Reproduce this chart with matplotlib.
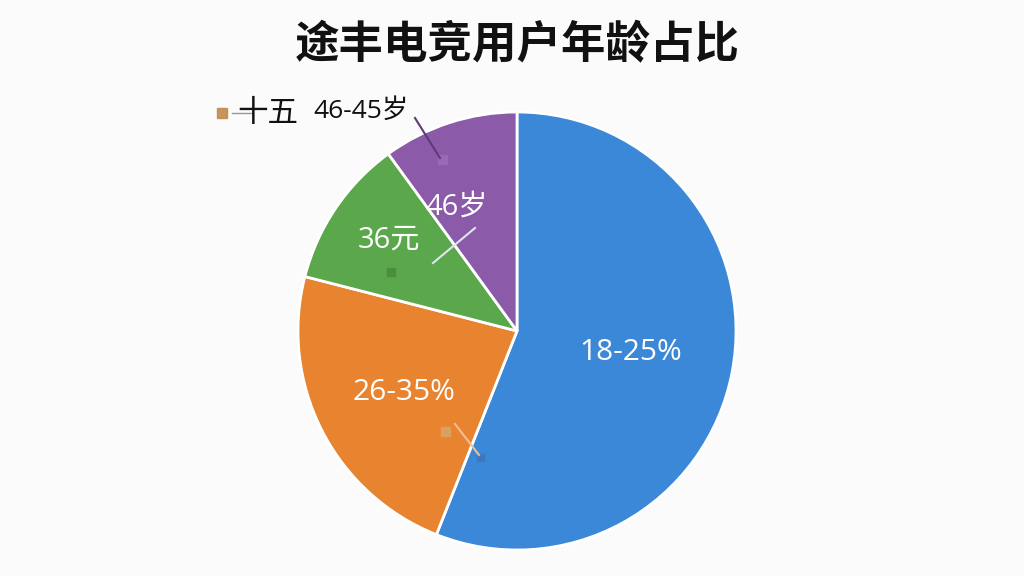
import matplotlib
matplotlib.use("Agg")
import matplotlib.pyplot as plt
from matplotlib.patches import Rectangle
from matplotlib.lines import Line2D

plt.rcParams['font.family'] = ['Noto Sans CJK SC', 'DejaVu Sans']
LAB_FONT = ['Open Sans', 'Noto Sans CJK SC', 'DejaVu Sans']

title = "途丰电竞用户年龄占比"
categories = ["18-25%", "26-35%", "36元", "46岁"]
values = [56, 23, 11, 10]
colors = ["#3b88d8", "#e8832f", "#5ba74c", "#8b5aa8"]
outside_labels = ["十五", "46-45岁"]

W, H = 1024, 576
fig = plt.figure(figsize=(W / 100, H / 100), dpi=100)
fig.patch.set_facecolor("#fbfbfb")

def fx(px):
    return px / W

def fy(py):
    return 1 - py / H

cx, cy, r = 517, 331, 219
ax = fig.add_axes([fx(cx - r), fy(cy + r), 2 * r / W, 2 * r / H])
wedges, _ = ax.pie(values, colors=colors, startangle=90, counterclock=False,
                   wedgeprops=dict(edgecolor="white", linewidth=2))
ax.set_xlim(-1, 1)
ax.set_ylim(-1, 1)
ax.set_aspect("equal")
ax.axis("off")

fig.text(fx(517), fy(45), title, ha="center", va="center", fontsize=32,
         fontweight="bold", color="#111111")

# in-slice labels
label_pos = [(631, 352), (404, 392), (389, 240), (457, 207)]
label_sizes = [21.5, 21.5, 21, 21]
for (px, py), lab, fs in zip(label_pos, categories, label_sizes):
    fig.text(fx(px), fy(py), lab, ha="center", va="center", fontsize=fs,
             color="white", family=LAB_FONT)

# outside labels
fig.text(fx(268), fy(113), outside_labels[0], ha="center", va="center",
         fontsize=22, color="#111111")
fig.text(fx(361), fy(111), outside_labels[1], ha="center", va="center",
         fontsize=19, color="#111111", family=LAB_FONT)

ov = fig.add_axes([0, 0, 1, 1], facecolor="none")
ov.set_xlim(0, W)
ov.set_ylim(H, 0)
ov.axis("off")
# decorative markers and leader lines
ov.add_patch(Rectangle((217, 108), 10, 10, color="#c08a4c", alpha=0.9))
ov.add_line(Line2D([232, 252], [113, 113], color="#999999", lw=1))
ov.add_line(Line2D([415, 440], [118, 158], color="#5e3a7a", lw=1.5))
ov.add_patch(Rectangle((438, 155), 9, 9, color="#9a6ab8"))
ov.add_line(Line2D([433, 475], [263, 228], color="#e0e6f0", lw=1.5))
ov.add_patch(Rectangle((387, 268), 8, 8, color="#4a8f3e"))
ov.add_patch(Rectangle((441, 427), 9, 9, color="#d9a060"))
ov.add_line(Line2D([455, 479], [424, 455], color="#f0c090", lw=1.5))
ov.add_patch(Rectangle((477, 454), 7, 7, color="#3a78c0"))

fig.savefig("out.png", dpi=100, facecolor=fig.get_facecolor())
